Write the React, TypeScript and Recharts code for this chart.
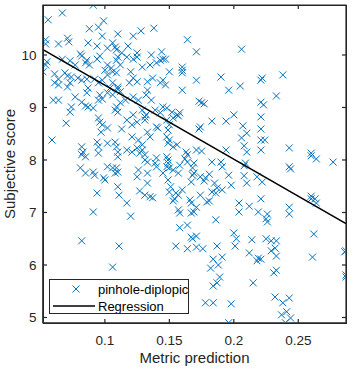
import { ScatterChart, Scatter, XAxis, YAxis, ReferenceArea } from 'recharts'

// [metric prediction, subjective score]
const samples: [number, number][] = [
  [0.091, 10.95], [0.067, 10.8], [0.056, 10.67], [0.099, 10.65], [0.095, 10.53], [0.088, 10.5], [0.138, 10.51],
  [0.128, 10.46], [0.11, 10.4], [0.098, 10.36], [0.122, 10.36], [0.071, 10.32], [0.072, 10.25], [0.054, 10.29],
  [0.054, 10.21], [0.064, 10.21], [0.087, 10.23], [0.094, 10.17], [0.106, 10.23], [0.108, 10.15], [0.109, 10.1],
  [0.118, 10.17], [0.102, 10.13], [0.113, 10.04], [0.125, 10.04], [0.144, 10.06], [0.081, 10.02], [0.082, 9.98],
  [0.096, 9.98], [0.094, 9.92], [0.11, 9.96], [0.109, 9.9], [0.117, 9.96], [0.125, 9.96], [0.122, 9.92],
  [0.136, 10.0], [0.145, 9.92], [0.055, 9.87], [0.054, 9.81], [0.052, 9.68], [0.067, 9.92], [0.073, 9.89],
  [0.086, 9.9], [0.085, 9.85], [0.088, 9.81], [0.102, 9.81], [0.105, 9.75], [0.1, 9.71], [0.112, 9.81],
  [0.106, 9.68], [0.129, 9.77], [0.135, 9.81], [0.14, 9.85], [0.15, 9.68], [0.061, 9.64], [0.064, 9.54],
  [0.069, 9.66], [0.071, 9.6], [0.074, 9.58], [0.079, 9.56], [0.082, 9.52], [0.086, 9.54], [0.092, 9.54],
  [0.098, 9.52], [0.122, 9.56], [0.137, 9.56], [0.164, 10.29], [0.16, 9.77], [0.16, 9.71], [0.16, 9.66],
  [0.171, 10.06], [0.143, 9.9], [0.147, 9.92], [0.102, 9.62], [0.109, 9.66], [0.12, 9.68], [0.077, 9.81],
  [0.206, 10.11], [0.171, 9.52], [0.19, 9.58], [0.222, 9.56], [0.238, 9.62],
  [0.095, 9.47], [0.106, 9.47], [0.11, 9.39], [0.104, 9.37], [0.119, 9.47], [0.125, 9.49], [0.133, 9.49],
  [0.143, 9.47], [0.145, 9.52], [0.147, 9.43], [0.061, 9.47], [0.064, 9.43], [0.073, 9.47], [0.071, 9.39],
  [0.087, 9.37], [0.086, 9.28], [0.11, 9.35], [0.112, 9.3], [0.102, 9.28], [0.096, 9.24], [0.095, 9.14],
  [0.098, 9.16], [0.06, 9.14], [0.064, 9.14], [0.077, 9.2], [0.082, 9.1], [0.085, 9.03], [0.074, 9.01],
  [0.073, 8.91], [0.087, 9.01], [0.091, 8.99], [0.116, 9.14], [0.112, 9.09], [0.122, 9.2], [0.126, 9.14],
  [0.132, 9.24], [0.136, 9.14], [0.109, 9.01], [0.108, 8.95], [0.11, 8.91], [0.129, 8.95], [0.132, 8.86],
  [0.139, 8.95], [0.143, 8.9], [0.131, 8.82], [0.131, 8.76], [0.148, 8.99], [0.152, 8.91], [0.156, 8.86],
  [0.07, 8.7], [0.095, 8.8], [0.096, 8.72], [0.098, 8.67], [0.102, 8.61], [0.117, 8.76], [0.121, 8.67],
  [0.125, 8.72], [0.148, 8.76], [0.15, 8.67], [0.149, 8.57], [0.059, 8.38], [0.121, 8.44], [0.126, 8.38],
  [0.129, 8.29], [0.133, 8.53], [0.135, 8.44], [0.148, 8.44], [0.15, 8.38], [0.149, 8.32], [0.153, 8.25],
  [0.094, 8.34], [0.095, 8.25], [0.102, 8.32], [0.108, 8.34], [0.109, 8.25], [0.11, 8.15], [0.082, 8.25],
  [0.083, 8.15], [0.085, 8.06], [0.082, 8.1], [0.117, 8.19], [0.121, 8.15], [0.125, 8.23], [0.127, 8.13],
  [0.131, 8.1], [0.095, 8.13], [0.11, 8.06], [0.16, 9.33], [0.158, 8.9], [0.157, 8.84], [0.153, 8.8],
  [0.163, 8.15], [0.164, 8.1], [0.156, 8.29], [0.14, 8.63], [0.141, 8.61], [0.097, 8.53], [0.113, 8.59],
  [0.122, 8.86], [0.129, 8.19], [0.14, 8.04], [0.106, 9.24], [0.133, 9.33], [0.145, 9.01],
  [0.173, 9.12], [0.175, 9.09], [0.177, 9.07], [0.196, 9.33], [0.205, 9.41], [0.221, 9.52], [0.221, 9.1],
  [0.223, 9.05], [0.233, 9.22], [0.183, 8.74], [0.194, 8.74], [0.2, 8.86], [0.221, 8.82], [0.173, 8.59],
  [0.174, 8.63], [0.207, 8.65], [0.21, 8.51], [0.206, 8.42], [0.208, 8.27], [0.21, 8.15], [0.221, 8.59],
  [0.221, 8.38], [0.224, 8.38], [0.221, 8.19], [0.171, 8.19], [0.175, 8.17], [0.194, 8.19], [0.243, 8.23],
  [0.26, 8.13], [0.26, 8.08], [0.264, 8.02], [0.277, 7.96],
  [0.131, 8.0], [0.133, 7.96], [0.139, 7.94], [0.14, 7.87], [0.148, 8.06], [0.149, 8.0], [0.149, 7.94],
  [0.148, 7.87], [0.15, 7.85], [0.081, 7.85], [0.085, 7.75], [0.102, 7.87], [0.109, 7.85], [0.11, 7.77],
  [0.108, 7.75], [0.092, 7.71], [0.126, 7.81], [0.133, 7.75], [0.125, 7.68], [0.145, 7.75], [0.153, 7.81],
  [0.157, 7.75], [0.091, 7.77], [0.099, 7.66], [0.106, 7.85], [0.158, 7.9], [0.164, 7.96], [0.168, 7.85],
  [0.168, 7.71], [0.167, 7.58], [0.149, 7.62], [0.151, 7.49], [0.15, 7.39], [0.133, 7.56], [0.11, 7.49],
  [0.111, 7.33], [0.117, 7.18], [0.12, 6.93], [0.127, 7.41], [0.131, 7.33], [0.135, 7.3], [0.137, 7.28],
  [0.094, 7.37], [0.091, 7.01], [0.155, 7.37], [0.157, 7.33], [0.154, 7.26], [0.153, 7.22], [0.157, 7.05],
  [0.158, 6.99], [0.166, 7.24], [0.167, 7.18], [0.167, 6.99], [0.158, 6.71], [0.164, 6.76], [0.167, 6.53],
  [0.1, 7.62], [0.169, 7.94], [0.162, 8.02], [0.16, 7.43], [0.168, 6.5],
  [0.183, 7.96], [0.19, 7.96], [0.191, 7.87], [0.209, 7.94], [0.208, 7.89], [0.243, 7.87], [0.244, 7.83],
  [0.169, 7.75], [0.174, 7.68], [0.178, 7.66], [0.181, 7.73], [0.185, 7.56], [0.183, 7.39], [0.186, 7.37],
  [0.191, 7.43], [0.198, 7.52], [0.196, 7.71], [0.208, 7.7], [0.21, 7.56], [0.218, 7.68], [0.222, 7.58],
  [0.174, 7.33], [0.179, 7.2], [0.181, 7.22], [0.171, 7.1], [0.169, 7.01], [0.204, 7.18], [0.204, 7.01],
  [0.212, 7.12], [0.221, 7.26], [0.219, 7.01], [0.226, 6.97], [0.225, 6.88], [0.226, 6.82], [0.243, 7.1],
  [0.243, 6.97], [0.26, 7.31], [0.263, 7.26], [0.26, 7.26], [0.264, 7.18], [0.186, 6.86], [0.2, 6.61],
  [0.202, 6.5], [0.214, 6.48], [0.225, 6.5], [0.229, 6.46], [0.233, 6.46], [0.262, 6.59], [0.171, 6.55],
  [0.187, 7.47], [0.177, 7.6],
  [0.082, 6.46], [0.111, 6.36], [0.106, 5.96], [0.155, 6.36], [0.164, 6.31],
  [0.171, 6.34], [0.176, 6.31], [0.187, 6.36], [0.201, 6.36], [0.232, 6.32], [0.229, 6.27], [0.233, 6.17],
  [0.212, 6.23], [0.219, 6.13], [0.218, 6.08], [0.221, 6.11], [0.184, 6.11], [0.191, 6.15], [0.188, 6.0],
  [0.182, 5.94], [0.189, 5.77], [0.184, 5.6], [0.187, 5.66], [0.215, 5.66], [0.231, 5.85], [0.233, 5.9],
  [0.261, 6.15], [0.286, 6.25], [0.287, 6.27], [0.287, 5.81], [0.287, 5.77], [0.178, 5.28], [0.184, 5.28],
  [0.198, 5.26], [0.232, 5.39], [0.238, 5.28], [0.243, 5.37], [0.241, 5.11], [0.237, 5.05], [0.244, 4.99],
  [0.24, 4.9], [0.196, 4.9],
]

// regression fit, ends at the axis limits
const regressionX = [0.052, 0.287]
const regressionY = [10.1, 6.79]

const xTicks = [0.1, 0.15, 0.2, 0.25]
const yTicks = [5, 6, 7, 8, 9, 10]
const xDomain = [0.052, 0.287]
const yDomain = [4.895, 10.952]

const AXIS = '#262626'
const BLUE = '#0072BD'
const TICK_LEN = 4
const W = 353
const H = 370
const M_TOP = 5
const M_RIGHT = 7
const Y_AXIS_W = 43
const X_AXIS_H = 47
const PLOT_RIGHT = W - M_RIGHT

const points = samples.map(([x, y]) => ({ x, y }))
const regression = regressionX.map((x, i) => ({ x, y: regressionY[i] }))

const Cross = (props: any) => {
  const { cx, cy } = props
  if (cx == null || cy == null) return <g />
  const r = 3.5
  return (
    <path
      d={`M${cx - r},${cy - r}L${cx + r},${cy + r}M${cx - r},${cy + r}L${cx + r},${cy - r}`}
      stroke={BLUE}
      strokeWidth={1}
      fill="none"
    />
  )
}

// matlab-style inward ticks, mirrored on the top / right edges of the box
const BottomTick = ({ x, y, payload }: any) => (
  <g>
    <line x1={x} x2={x} y1={y - 12} y2={y - 12 - TICK_LEN} stroke={AXIS} strokeWidth={1.2} />
    <line x1={x} x2={x} y1={M_TOP} y2={M_TOP + TICK_LEN} stroke={AXIS} strokeWidth={1.2} />
    <text x={x} y={y} dy="0.71em" textAnchor="middle" fontSize={13.5} fill={AXIS}>
      {payload.value}
    </text>
  </g>
)

const LeftTick = ({ x, y, payload }: any) => (
  <g>
    <line x1={x + 6.5} x2={x + 6.5 + TICK_LEN} y1={y} y2={y} stroke={AXIS} strokeWidth={1.2} />
    <line x1={PLOT_RIGHT} x2={PLOT_RIGHT - TICK_LEN} y1={y} y2={y} stroke={AXIS} strokeWidth={1.2} />
    <text x={x} y={y} dy="0.355em" textAnchor="end" fontSize={13.5} fill={AXIS}>
      {payload.value}
    </text>
  </g>
)

function LegendBox() {
  return (
    <div
      style={{
        position: 'absolute',
        left: 49,
        top: 279,
        width: 140,
        height: 35,
        boxSizing: 'border-box',
        border: `1px solid ${AXIS}`,
        background: '#fff',
      }}
    >
      <svg width={138} height={33} style={{ display: 'block' }}>
        <path d="M22.5,5.5L29.5,12.5M22.5,12.5L29.5,5.5" stroke={BLUE} strokeWidth={1} fill="none" />
        <text x={48} y={13.5} fontSize={13} fill="#000">pinhole-diplopic</text>
        <line x1={3} x2={45} y1={26} y2={26} stroke="#000" strokeWidth={1.5} />
        <text x={48} y={30.5} fontSize={13} fill="#000">Regression</text>
      </svg>
    </div>
  )
}

export default function App() {
  return (
    <div
      style={{
        position: 'absolute',
        left: 0,
        top: 0,
        width: W,
        height: H,
        fontFamily: '"Liberation Sans", Arial, sans-serif',
        background: '#fff',
      }}
    >
      <ScatterChart width={W} height={H} margin={{ top: M_TOP, right: M_RIGHT, left: 0, bottom: 0 }}>
        <XAxis
          dataKey="x"
          type="number"
          domain={xDomain}
          ticks={xTicks}
          allowDataOverflow
          height={X_AXIS_H}
          tickSize={0}
          tickMargin={12}
          tick={<BottomTick />}
          axisLine={{ stroke: AXIS, strokeWidth: 1.2 }}
          label={{ value: 'Metric prediction', position: 'insideBottom', offset: 7, fontSize: 15, fill: AXIS }}
        />
        <YAxis
          dataKey="y"
          type="number"
          domain={yDomain}
          ticks={yTicks}
          allowDataOverflow
          width={Y_AXIS_W}
          tickSize={0}
          tickMargin={6.5}
          tick={<LeftTick />}
          axisLine={{ stroke: AXIS, strokeWidth: 1.2 }}
          label={{
            value: 'Subjective score',
            angle: -90,
            position: 'insideLeft',
            offset: 9.5,
            fontSize: 15,
            fill: AXIS,
            style: { textAnchor: 'middle' },
          }}
        />
        <ReferenceArea
          x1={xDomain[0]}
          x2={xDomain[1]}
          y1={yDomain[0]}
          y2={yDomain[1]}
          fill="none"
          stroke={AXIS}
          strokeWidth={1.2}
          ifOverflow="visible"
        />
        <Scatter name="pinhole-diplopic" data={points} shape={<Cross />} isAnimationActive={false} />
        <Scatter
          name="Regression"
          data={regression}
          line={{ stroke: '#000', strokeWidth: 1.5 }}
          shape={() => <g />}
          isAnimationActive={false}
        />
      </ScatterChart>
      {/* axes box outline, drawn again on top in case the svg one is lost */}
      <div
        style={{
          position: 'absolute',
          left: Y_AXIS_W,
          top: M_TOP,
          width: PLOT_RIGHT - Y_AXIS_W + 1,
          height: H - X_AXIS_H - M_TOP + 1,
          boxSizing: 'border-box',
          border: `1px solid ${AXIS}`,
          pointerEvents: 'none',
        }}
      />
      <LegendBox />
    </div>
  )
}
